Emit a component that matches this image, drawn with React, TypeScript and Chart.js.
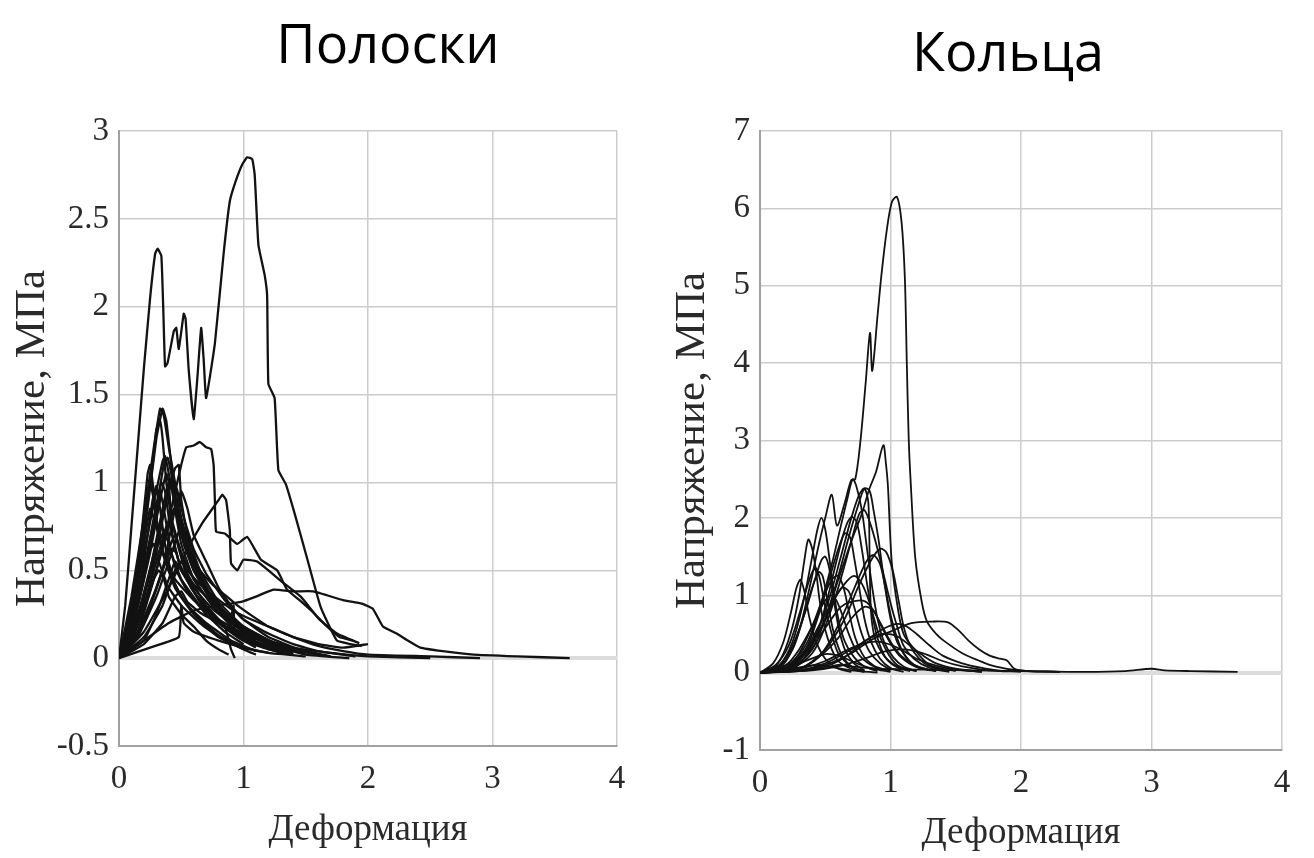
import React, { useEffect, useRef } from "react";
import { Chart, registerables } from "chart.js";

Chart.register(...registerables);

type Pt = [number, number];

const stripTitle = "Полоски";
const ringTitle = "Кольца";
const xAxisTitle = "Деформация";
const yAxisTitle = "Напряжение, МПа";

const xTicks = [0, 1, 2, 3, 4];
const stripYTicks = [-0.5, 0, 0.5, 1, 1.5, 2, 2.5, 3];
const ringYTicks = [-1, 0, 1, 2, 3, 4, 5, 6, 7];

// ---------- Полоски (strips) ----------
const strip01: Pt[] = [[0,0],[0.05,0.3],[0.1,0.75],[0.15,1.2],[0.2,1.65],[0.25,2.05],[0.29,2.3],[0.31,2.33],[0.34,2.29],[0.355,2.0],[0.37,1.66],[0.39,1.68],[0.44,1.86],[0.46,1.88],[0.48,1.76],[0.52,1.96],[0.535,1.93],[0.56,1.64],[0.6,1.36],[0.63,1.6],[0.66,1.88],[0.68,1.7],[0.7,1.48],[0.77,1.79],[0.84,2.3],[0.89,2.6],[0.94,2.72],[0.99,2.81],[1.03,2.85],[1.07,2.84],[1.09,2.75],[1.12,2.35],[1.17,2.18],[1.19,2.06],[1.2,1.56],[1.25,1.48],[1.28,1.07],[1.34,0.99],[1.42,0.8],[1.51,0.57],[1.62,0.29],[1.75,0.1],[1.86,0.08],[1.95,0.07]];
const strip02: Pt[] = [[0,0],[0.1,0.35],[0.2,0.8],[0.28,1.2],[0.33,1.42],[0.36,1.38],[0.4,1.2],[0.45,1.0],[0.5,0.8],[0.6,0.55],[0.75,0.35],[0.9,0.22],[1.1,0.12],[1.3,0.05]];
const strip03: Pt[] = [[0,0],[0.1,0.3],[0.18,0.7],[0.23,1.05],[0.25,1.1],[0.27,1.0],[0.3,0.8],[0.35,0.6],[0.45,0.4],[0.6,0.25],[0.8,0.12],[1.0,0.05],[1.1,0.02]];
const strip04: Pt[] = [[0,0],[0.1,0.2],[0.2,0.5],[0.3,0.85],[0.36,1.1],[0.39,1.14],[0.42,1.05],[0.45,0.85],[0.5,0.65],[0.6,0.45],[0.75,0.3],[0.95,0.15],[1.2,0.06],[1.4,0.02]];
const strip05: Pt[] = [[0,0],[0.15,0.25],[0.3,0.65],[0.4,0.95],[0.45,1.08],[0.48,1.1],[0.5,0.9],[0.55,0.7],[0.65,0.5],[0.8,0.32],[1.0,0.18],[1.3,0.07],[1.5,0.03]];
const strip06: Pt[] = [[0,0],[0.15,0.2],[0.3,0.5],[0.42,0.85],[0.5,1.1],[0.54,1.2],[0.6,1.21],[0.65,1.23],[0.7,1.2],[0.74,1.19],[0.76,1.1],[0.77,0.9],[0.78,0.72],[0.85,0.71],[0.95,0.65],[1.03,0.69],[1.14,0.56],[1.27,0.5],[1.35,0.39],[1.45,0.33],[1.56,0.26],[1.67,0.18],[1.77,0.12],[1.88,0.1]];
const strip07: Pt[] = [[0,0],[0.2,0.15],[0.4,0.4],[0.55,0.62],[0.67,0.77],[0.75,0.85],[0.8,0.9],[0.83,0.93],[0.86,0.9],[0.89,0.73],[0.9,0.54],[0.95,0.5],[1.0,0.56],[1.11,0.55],[1.3,0.44],[1.46,0.35],[1.61,0.22],[1.75,0.14],[1.93,0.085]];
const strip08: Pt[] = [[0,0],[0.2,0.1],[0.4,0.2],[0.6,0.27],[0.8,0.3],[0.98,0.32],[1.1,0.35],[1.24,0.39],[1.4,0.38],[1.56,0.38],[1.8,0.33],[1.95,0.31],[2.04,0.28],[2.12,0.18],[2.23,0.14],[2.32,0.1],[2.42,0.06],[2.6,0.04],[2.85,0.02],[3.2,0.01],[3.62,0.0]];
const strip09: Pt[] = [[0,0],[0.25,0.06],[0.48,0.12],[0.5,0.3],[0.52,0.2],[0.6,0.15],[0.8,0.1],[1.0,0.06],[1.2,0.03],[1.5,0.01]];
const strip10: Pt[] = [[0,0],[0.1,0.15],[0.2,0.45],[0.3,0.8],[0.33,0.95],[0.36,0.85],[0.42,0.6],[0.5,0.45],[0.65,0.3],[0.8,0.2],[1.0,0.1],[1.2,0.05],[1.4,0.02]];
const strip11: Pt[] = [[0,0],[0.15,0.2],[0.25,0.5],[0.35,0.85],[0.4,1.0],[0.44,0.95],[0.5,0.75],[0.6,0.55],[0.7,0.4],[0.85,0.25],[1.0,0.16],[1.2,0.08],[1.5,0.02],[1.85,0.0]];
const strip12: Pt[] = [[0,0],[0.1,0.1],[0.2,0.3],[0.3,0.55],[0.38,0.75],[0.42,0.78],[0.47,0.65],[0.55,0.45],[0.65,0.32],[0.8,0.2],[0.95,0.12],[1.1,0.06]];
const strip13: Pt[] = [[0,0],[0.15,0.15],[0.3,0.4],[0.4,0.62],[0.45,0.7],[0.5,0.6],[0.55,0.48],[0.7,0.3],[0.85,0.18],[0.9,0.05],[0.93,0.0]];
const strip14: Pt[] = [[0,0],[0.2,0.2],[0.35,0.5],[0.45,0.85],[0.5,0.95],[0.55,0.85],[0.6,0.7],[0.7,0.55],[0.8,0.4],[0.9,0.3],[1.0,0.22],[1.2,0.14],[1.4,0.08],[1.6,0.04],[1.9,0.01]];
const strip15: Pt[] = [[0,0],[0.1,0.2],[0.2,0.55],[0.27,0.9],[0.3,0.98],[0.33,0.85],[0.38,0.6],[0.45,0.42],[0.55,0.3],[0.7,0.2],[0.9,0.1],[1.1,0.04]];
const strip16: Pt[] = [[0,0],[0.2,0.1],[0.3,0.25],[0.4,0.45],[0.45,0.55],[0.5,0.5],[0.6,0.42],[0.7,0.35],[0.8,0.28],[0.9,0.24],[0.92,0.3],[0.93,0.15],[1.0,0.12],[1.2,0.07],[1.4,0.03]];
const strip17: Pt[] = [[0,0],[0.1,0.25],[0.2,0.65],[0.25,0.85],[0.3,0.75],[0.35,0.6],[0.45,0.45],[0.6,0.33],[0.8,0.22],[1.0,0.14],[1.2,0.08],[1.35,0.05]];
const strip18: Pt[] = [[0,0],[0.15,0.3],[0.25,0.6],[0.33,0.9],[0.38,1.05],[0.4,1.0],[0.43,0.7],[0.5,0.5],[0.6,0.4],[0.75,0.28],[0.9,0.2],[1.1,0.12],[1.3,0.07],[1.6,0.02]];
const strip19: Pt[] = [[0,0],[0.2,0.08],[0.35,0.2],[0.45,0.35],[0.5,0.38],[0.55,0.32],[0.65,0.26],[0.8,0.2],[1.0,0.14],[1.2,0.1],[1.4,0.06],[1.7,0.03],[2.0,0.01],[2.5,0.0]];
const strip20: Pt[] = [[0,0],[0.2,0.12],[0.35,0.3],[0.45,0.5],[0.5,0.55],[0.55,0.5],[0.65,0.42],[0.75,0.36],[0.9,0.28],[1.0,0.24],[1.2,0.18],[1.4,0.12],[1.6,0.07],[1.8,0.04],[2.0,0.02],[2.5,0.01],[2.9,0.0]];
const strip21: Pt[] = [[0,0],[0.1,0.1],[0.2,0.28],[0.28,0.45],[0.32,0.5],[0.36,0.45],[0.4,0.35],[0.5,0.25],[0.6,0.18],[0.7,0.1],[0.8,0.05],[0.88,0.02]];
const strip22: Pt[] = [[0,0],[0.1,0.3],[0.2,0.75],[0.27,1.1],[0.3,1.3],[0.33,1.35],[0.35,1.25],[0.38,1.0],[0.42,0.8],[0.5,0.6],[0.6,0.45],[0.75,0.3],[0.9,0.2],[1.1,0.1]];
const strip23: Pt[] = [[0,0],[0.1,0.25],[0.2,0.6],[0.3,0.95],[0.35,1.12],[0.37,1.15],[0.4,1.05],[0.44,0.9],[0.5,0.7],[0.6,0.5],[0.7,0.38],[0.85,0.26],[1.0,0.18],[1.2,0.1],[1.4,0.05]];
const strip24: Pt[] = [[0,0],[0.15,0.12],[0.3,0.35],[0.4,0.55],[0.47,0.7],[0.5,0.75],[0.53,0.7],[0.58,0.6],[0.65,0.5],[0.75,0.42],[0.85,0.36],[0.95,0.3],[1.05,0.25],[1.2,0.18],[1.4,0.12],[1.6,0.08],[1.8,0.06],[2.0,0.08]];
const strip25: Pt[] = [[0,0],[0.1,0.15],[0.18,0.4],[0.24,0.6],[0.28,0.65],[0.32,0.55],[0.4,0.4],[0.5,0.3],[0.65,0.2],[0.8,0.12],[1.0,0.06],[1.2,0.03]];
const strip26: Pt[] = [[0,0],[0.12,0.3],[0.22,0.8],[0.3,1.25],[0.35,1.42],[0.38,1.35],[0.42,1.1],[0.47,0.85],[0.55,0.62],[0.65,0.45],[0.8,0.3],[1.0,0.17],[1.25,0.08],[1.5,0.03]];
const strip27: Pt[] = [[0,0],[0.1,0.2],[0.2,0.5],[0.28,0.8],[0.34,1.0],[0.37,0.95],[0.41,0.75],[0.48,0.55],[0.58,0.4],[0.7,0.28],[0.85,0.18],[1.05,0.1],[1.3,0.04]];
const strip28: Pt[] = [[0,0],[0.15,0.15],[0.28,0.45],[0.38,0.7],[0.44,0.85],[0.48,0.82],[0.52,0.65],[0.6,0.5],[0.72,0.35],[0.88,0.22],[1.05,0.13],[1.3,0.06],[1.6,0.02]];
const strip29: Pt[] = [[0,0],[0.12,0.1],[0.25,0.3],[0.35,0.5],[0.42,0.62],[0.46,0.6],[0.5,0.5],[0.6,0.38],[0.75,0.25],[0.9,0.15],[1.1,0.08],[1.3,0.03]];
const strip30: Pt[] = [[0,0],[0.1,0.12],[0.2,0.35],[0.3,0.62],[0.36,0.72],[0.4,0.65],[0.46,0.5],[0.55,0.38],[0.7,0.25],[0.85,0.15],[1.0,0.08]];
const strip31: Pt[] = [[0,0],[0.2,0.3],[0.3,0.6],[0.38,0.9],[0.43,1.02],[0.47,0.95],[0.52,0.8],[0.6,0.62],[0.7,0.48],[0.85,0.33],[1.0,0.22],[1.2,0.12],[1.45,0.05],[1.7,0.01]];
const strip32: Pt[] = [[0,0],[0.08,0.2],[0.16,0.55],[0.22,0.9],[0.25,1.0],[0.28,0.9],[0.32,0.7],[0.4,0.5],[0.5,0.35],[0.65,0.22],[0.8,0.13],[1.0,0.05]];

const stripCurves: Pt[][] = [strip01, strip02, strip03, strip04, strip05, strip06, strip07, strip08, strip09, strip10, strip11, strip12, strip13, strip14, strip15, strip16, strip17, strip18, strip19, strip20, strip21, strip22, strip23, strip24, strip25, strip26, strip27, strip28, strip29, strip30, strip31, strip32];

// ---------- Кольца (rings) ----------
const ring01: Pt[] = [[0,0],[0.1,0.03],[0.2,0.15],[0.3,0.55],[0.38,1.1],[0.45,1.65],[0.5,2.0],[0.55,2.3],[0.59,1.9],[0.65,2.2],[0.7,2.49],[0.73,2.5],[0.77,3.0],[0.81,3.75],[0.843,4.39],[0.86,3.9],[0.9,4.6],[0.93,5.13],[0.97,5.7],[1.01,6.08],[1.05,6.15],[1.085,5.82],[1.11,5.1],[1.125,4.0],[1.14,3.0],[1.156,2.42],[1.19,1.48],[1.24,0.91],[1.28,0.66],[1.35,0.5],[1.41,0.41],[1.55,0.25],[1.67,0.16],[1.8,0.08],[1.98,0.03],[2.3,0.01]];
const ring02: Pt[] = [[0,0],[0.2,0.05],[0.35,0.25],[0.5,0.7],[0.6,1.2],[0.7,1.7],[0.78,2.05],[0.835,2.36],[0.89,2.6],[0.945,2.94],[0.965,2.7],[0.98,2.42],[1.01,1.42],[1.06,0.79],[1.1,0.5],[1.16,0.35],[1.3,0.1],[1.5,0.02]];
const ring03: Pt[] = [[0,0],[0.15,0.1],[0.25,0.4],[0.33,0.9],[0.4,1.5],[0.44,1.85],[0.47,2.0],[0.5,1.85],[0.53,1.5],[0.56,1.1],[0.6,0.7],[0.65,0.4],[0.72,0.2],[0.8,0.08],[0.9,0.02]];
const ring04: Pt[] = [[0,0],[0.1,0.05],[0.18,0.25],[0.25,0.6],[0.3,1.0],[0.34,1.45],[0.37,1.72],[0.4,1.6],[0.43,1.3],[0.46,0.9],[0.5,0.55],[0.55,0.3],[0.6,0.15],[0.7,0.05],[0.8,0.01]];
const ring05: Pt[] = [[0,0],[0.2,0.08],[0.35,0.35],[0.45,0.8],[0.55,1.4],[0.62,1.9],[0.67,2.25],[0.71,2.5],[0.74,2.4],[0.78,2.1],[0.82,1.6],[0.86,1.1],[0.9,0.7],[0.95,0.4],[1.02,0.2],[1.1,0.08],[1.2,0.02]];
const ring06: Pt[] = [[0,0],[0.25,0.08],[0.4,0.3],[0.5,0.7],[0.6,1.25],[0.68,1.75],[0.75,2.15],[0.8,2.38],[0.84,2.35],[0.87,2.1],[0.91,1.7],[0.95,1.2],[1.0,0.7],[1.05,0.4],[1.12,0.2],[1.2,0.08],[1.35,0.02]];
const ring07: Pt[] = [[0,0],[0.25,0.06],[0.4,0.25],[0.5,0.6],[0.6,1.1],[0.7,1.7],[0.76,2.05],[0.8,2.1],[0.85,1.9],[0.9,1.6],[0.95,1.25],[1.0,0.9],[1.05,0.6],[1.1,0.35],[1.18,0.18],[1.3,0.06],[1.45,0.01]];
const ring08: Pt[] = [[0,0],[0.3,0.05],[0.5,0.3],[0.65,0.7],[0.75,1.1],[0.85,1.45],[0.92,1.6],[0.97,1.55],[1.02,1.3],[1.06,0.95],[1.1,0.6],[1.15,0.35],[1.22,0.18],[1.3,0.08],[1.45,0.02]];
const ring09: Pt[] = [[0,0],[0.15,0.1],[0.25,0.35],[0.35,0.8],[0.42,1.2],[0.47,1.45],[0.5,1.5],[0.53,1.35],[0.56,1.0],[0.6,0.6],[0.65,0.3],[0.72,0.12],[0.8,0.03]];
const ring10: Pt[] = [[0,0],[0.12,0.1],[0.22,0.35],[0.3,0.75],[0.36,1.1],[0.4,1.3],[0.43,1.35],[0.46,1.2],[0.5,0.85],[0.55,0.5],[0.6,0.25],[0.7,0.08],[0.8,0.02]];
const ring11: Pt[] = [[0,0],[0.1,0.12],[0.18,0.4],[0.24,0.8],[0.28,1.1],[0.31,1.2],[0.34,1.05],[0.38,0.7],[0.43,0.4],[0.5,0.18],[0.6,0.05],[0.7,0.01]];
const ring12: Pt[] = [[0,0],[0.2,0.1],[0.3,0.3],[0.4,0.6],[0.48,0.88],[0.54,1.0],[0.58,0.95],[0.63,0.75],[0.68,0.5],[0.75,0.25],[0.85,0.1],[1.0,0.02]];
const ring13: Pt[] = [[0,0],[0.2,0.05],[0.35,0.2],[0.45,0.45],[0.55,0.7],[0.62,0.85],[0.69,0.91],[0.79,0.93],[0.85,0.85],[0.92,0.65],[1.0,0.4],[1.08,0.22],[1.18,0.1],[1.3,0.03]];
const ring14: Pt[] = [[0,0],[0.3,0.03],[0.5,0.1],[0.7,0.25],[0.85,0.42],[1.0,0.53],[1.16,0.64],[1.32,0.66],[1.44,0.65],[1.52,0.55],[1.6,0.41],[1.68,0.3],[1.76,0.22],[1.84,0.18],[1.89,0.16],[1.95,0.05],[2.05,0.02],[2.3,0.01]];
const ring15: Pt[] = [[0,0],[0.3,0.02],[0.5,0.08],[0.65,0.2],[0.8,0.4],[0.95,0.57],[1.05,0.63],[1.12,0.6],[1.2,0.5],[1.3,0.35],[1.4,0.22],[1.55,0.12],[1.7,0.06],[1.85,0.02]];
const ring16: Pt[] = [[0,0],[0.3,0.03],[0.5,0.12],[0.7,0.3],[0.85,0.45],[0.95,0.5],[1.05,0.47],[1.15,0.35],[1.25,0.22],[1.35,0.12],[1.5,0.05],[1.7,0.01]];
const ring17: Pt[] = [[0,0],[0.3,0.05],[0.5,0.15],[0.65,0.28],[0.8,0.38],[0.9,0.4],[1.0,0.36],[1.1,0.28],[1.2,0.18],[1.35,0.09],[1.5,0.04],[1.7,0.01]];
const ring18: Pt[] = [[0,0],[0.4,0.03],[0.6,0.08],[0.8,0.18],[0.95,0.27],[1.1,0.3],[1.25,0.25],[1.4,0.15],[1.55,0.08],[1.75,0.03],[2.0,0.01]];
const ring19: Pt[] = [[0,0],[0.2,0.05],[0.35,0.15],[0.5,0.24],[0.6,0.22],[0.7,0.15],[0.8,0.08],[0.9,0.04],[1.0,0.01]];
const ring20: Pt[] = [[0,0],[0.2,0.06],[0.35,0.25],[0.48,0.6],[0.57,0.95],[0.63,1.1],[0.68,1.05],[0.73,0.8],[0.78,0.5],[0.84,0.27],[0.92,0.12],[1.0,0.04]];
const ring21: Pt[] = [[0,0],[0.3,0.05],[0.45,0.2],[0.55,0.45],[0.65,0.8],[0.75,1.2],[0.82,1.45],[0.87,1.52],[0.92,1.4],[0.96,1.1],[1.0,0.75],[1.05,0.45],[1.1,0.25],[1.18,0.1],[1.3,0.03]];
const ring22: Pt[] = [[0,0],[0.3,0.02],[0.5,0.06],[0.6,0.1],[0.7,0.08],[0.9,0.05],[1.2,0.04],[1.6,0.03],[2.0,0.02],[2.5,0.01],[2.8,0.02],[3.0,0.05],[3.1,0.03],[3.3,0.02],[3.66,0.01]];
const ring23: Pt[] = [[0,0],[0.2,0.04],[0.35,0.08],[0.45,0.1],[0.55,0.07],[0.7,0.03],[0.9,0.0]];
const ring24: Pt[] = [[0,0],[0.2,0.05],[0.35,0.3],[0.45,0.75],[0.53,1.2],[0.6,1.6],[0.65,1.8],[0.69,1.75],[0.72,1.5],[0.76,1.1],[0.8,0.7],[0.85,0.4],[0.92,0.18],[1.0,0.06],[1.1,0.01]];
const ring25: Pt[] = [[0,0],[0.25,0.05],[0.4,0.35],[0.5,0.85],[0.58,1.4],[0.65,1.85],[0.7,2.01],[0.74,1.95],[0.78,1.6],[0.82,1.15],[0.86,0.75],[0.9,0.45],[0.96,0.2],[1.05,0.07],[1.15,0.02]];
const ring26: Pt[] = [[0,0],[0.25,0.1],[0.4,0.4],[0.52,0.9],[0.62,1.5],[0.7,2.0],[0.76,2.3],[0.8,2.38],[0.83,2.2],[0.84,1.5],[0.85,0.8],[0.88,0.45],[0.95,0.22],[1.05,0.08],[1.2,0.02]];
const ring27: Pt[] = [[0,0],[0.15,0.08],[0.25,0.3],[0.33,0.7],[0.4,1.1],[0.45,1.3],[0.48,1.25],[0.52,0.9],[0.56,0.55],[0.62,0.25],[0.7,0.08],[0.8,0.02]];
const ring28: Pt[] = [[0,0],[0.2,0.05],[0.3,0.25],[0.4,0.6],[0.48,0.95],[0.55,1.2],[0.6,1.25],[0.64,1.1],[0.68,0.8],[0.73,0.45],[0.8,0.2],[0.9,0.05]];
const ring29: Pt[] = [[0,0],[0.2,0.06],[0.35,0.3],[0.45,0.6],[0.55,0.9],[0.65,1.15],[0.72,1.25],[0.78,1.15],[0.84,0.9],[0.9,0.55],[0.97,0.28],[1.05,0.1],[1.15,0.03]];
const ring30: Pt[] = [[0,0],[0.3,0.05],[0.45,0.2],[0.6,0.45],[0.7,0.7],[0.8,0.85],[0.87,0.8],[0.93,0.6],[1.0,0.38],[1.08,0.2],[1.2,0.07],[1.35,0.02]];

const ringCurves: Pt[][] = [ring01, ring02, ring03, ring04, ring05, ring06, ring07, ring08, ring09, ring10, ring11, ring12, ring13, ring14, ring15, ring16, ring17, ring18, ring19, ring20, ring21, ring22, ring23, ring24, ring25, ring26, ring27, ring28, ring29, ring30];

const serif = "'Liberation Serif', 'DejaVu Serif', serif";

function fmt(v: number) {
  return String(v);
}

function makeConfig(
  curves: Pt[][],
  yTicks: number[],
  yAxisWidth: number,
  xAxisHeight: number,
  padRight: number,
  lineWidth: number,
  tension: number,
  xTitlePad: number
): any {
  const yMin = yTicks[0];
  const yMax = yTicks[yTicks.length - 1];
  return {
    type: "scatter",
    data: {
      datasets: curves.map((c, i) => ({
        label: "c" + i,
        data: c.map(([x, y]) => ({ x, y })),
        showLine: true,
        borderColor: "#121212",
        borderWidth: lineWidth,
        pointRadius: 0,
        pointHoverRadius: 0,
        tension,
        fill: false,
      })),
    },
    options: {
      animation: false,
      responsive: false,
      devicePixelRatio: 1,
      events: [],
      layout: { padding: { top: 131, right: padRight, left: 0, bottom: 0 } },
      plugins: {
        legend: { display: false },
        tooltip: { enabled: false },
        title: { display: false },
      },
      scales: {
        x: {
          type: "linear",
          min: xTicks[0],
          max: xTicks[xTicks.length - 1],
          afterFit: (s: any) => {
            s.height = xAxisHeight;
          },
          afterBuildTicks: (s: any) => {
            s.ticks = xTicks.map((v) => ({ value: v }));
          },
          ticks: {
            font: { family: serif, size: 33 },
            color: "#2a2a2a",
            padding: 14,
            maxRotation: 0,
            callback: (v: number) => fmt(v),
          },
          grid: { color: "#cccccc", lineWidth: 1.5, drawTicks: false },
          border: { color: "#a0a0a0", width: 2 },
          title: {
            display: true,
            text: xAxisTitle,
            font: { family: serif, size: 37 },
            color: "#2a2a2a",
            padding: { top: 0, bottom: xTitlePad },
          },
        },
        y: {
          type: "linear",
          min: yMin,
          max: yMax,
          afterFit: (s: any) => {
            s.width = yAxisWidth;
          },
          afterBuildTicks: (s: any) => {
            s.ticks = yTicks.map((v) => ({ value: v }));
          },
          ticks: {
            font: { family: serif, size: 33 },
            color: "#2a2a2a",
            padding: 10,
            callback: (v: number) => fmt(v),
          },
          grid: {
            color: (ctx: any) => (ctx.tick && ctx.tick.value === 0 ? "#dcdcdc" : "#cccccc"),
            lineWidth: (ctx: any) => (ctx.tick && ctx.tick.value === 0 ? 4 : 1.5),
            drawTicks: false,
          },
          border: { color: "#a0a0a0", width: 2 },
          title: {
            display: true,
            text: yAxisTitle,
            font: { family: serif, size: 43 },
            color: "#2a2a2a",
            padding: { top: 7, bottom: 0 },
          },
        },
      },
    },
  };
}

function Panel(props: { config: any; left: number; width: number }) {
  const ref = useRef<HTMLCanvasElement | null>(null);
  useEffect(() => {
    if (!ref.current) return;
    const chart = new Chart(ref.current, props.config);
    return () => chart.destroy();
  }, []);
  return (
    <canvas
      ref={ref}
      width={props.width}
      height={858}
      style={{ position: "absolute", left: props.left, top: 0, width: props.width, height: 858 }}
    />
  );
}

const titleStyle = (cx: number, cy: number): React.CSSProperties => ({
  position: "absolute",
  left: cx,
  top: cy,
  transform: "translate(-50%, -50%)",
  fontFamily: "'Open Sans', 'Noto Sans', sans-serif",
  fontSize: 54,
  lineHeight: 1,
  color: "#000",
  whiteSpace: "nowrap",
});

export default function App() {
  const leftCfg = makeConfig(stripCurves, stripYTicks, 119, 112, 43, 2.3, 0.12, 6);
  const rightCfg = makeConfig(ringCurves, ringYTicks, 100, 108, 32, 1.8, 0.3, 3);
  return (
    <div style={{ position: "fixed", left: 0, top: 0, width: 1314, height: 858, background: "#fff", overflow: "hidden" }}>
      <Panel config={leftCfg} left={0} width={660} />
      <Panel config={rightCfg} left={660} width={654} />
      <div style={titleStyle(388, 42)}>{stripTitle}</div>
      <div style={titleStyle(1008, 50)}>{ringTitle}</div>
    </div>
  );
}
